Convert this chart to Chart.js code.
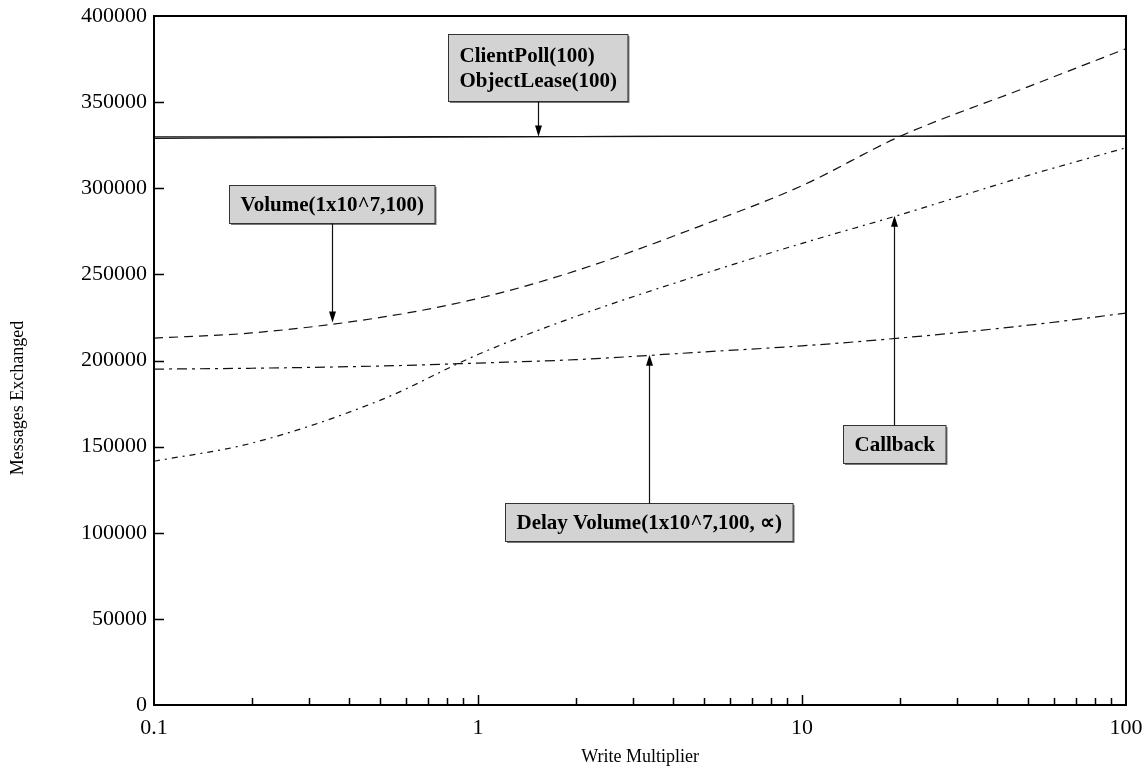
<!DOCTYPE html>
<html>
<head>
<meta charset="utf-8">
<script src="https://cdn.jsdelivr.net/npm/chart.js@4.4.1/dist/chart.umd.min.js"></script>
<style>
  html, body { margin: 0; padding: 0; background: #fff; }
  #wrap { width: 1143px; height: 769px; }
</style>
</head>
<body>
<div id="wrap"><canvas id="chart"></canvas></div>
<script>
// Messages exchanged vs write multiplier
const multipliers = [0.1, 0.2, 0.5, 1, 2, 5, 10, 20, 50, 100];
const clientPoll   = [329800, 329850, 329900, 330000, 330050, 330100, 330150, 330200, 330250, 330300];
const objectLease  = [329000, 329200, 329500, 329800, 330000, 330100, 330150, 330200, 330250, 330300];
const volume       = [213000, 216000, 225000, 236000, 252000, 279000, 301500, 330000, 359000, 381000];
const callback     = [141500, 152000, 177000, 203500, 225500, 250500, 268000, 284500, 307500, 323500];
const delayVolume  = [195000, 195500, 196800, 198500, 200500, 205000, 208500, 213000, 220500, 227500];
const xTickValues  = [0.1, 1, 10, 100];
const yTickStep    = 50000;

// callout boxes: arrow at x, box edge at boxY, arrow tip at tipY
const callouts = [
  { lines: ['ClientPoll(100)', 'ObjectLease(100)'], x: 1.53, boxY: 350700, tipY: 330000, dir: 'down' },
  { lines: ['Volume(1x10^7,100)'], x: 0.354, boxY: 279900, tipY: 222000, dir: 'down' },
  { lines: ['Delay Volume(1x10^7,100, \u221D)'], x: 3.37, boxY: 117300, tipY: 203300, dir: 'up' },
  { lines: ['Callback'], x: 19.2, boxY: 162600, tipY: 284000, dir: 'up' }
];

const SERIF = "'Liberation Serif', 'Times New Roman', serif";

function pts(values) {
  return multipliers.map((m, i) => ({ x: m, y: values[i] }));
}

function lineSet(label, values, dash) {
  return {
    label: label,
    data: pts(values),
    borderColor: '#111',
    borderWidth: 1.2,
    borderDash: dash,
    pointRadius: 0,
    fill: false,
    cubicInterpolationMode: 'monotone'
  };
}

const framePlugin = {
  id: 'frame',
  afterDraw(chart) {
    const { ctx, chartArea: a, scales } = chart;
    ctx.save();
    ctx.strokeStyle = '#000';
    ctx.lineWidth = 2;
    ctx.strokeRect(a.left, a.top, a.right - a.left, a.bottom - a.top);
    ctx.lineWidth = 1.5;
    ctx.beginPath();
    for (let v = yTickStep; v < 400000; v += yTickStep) {
      const y = Math.round(scales.y.getPixelForValue(v)) + 0.5;
      ctx.moveTo(a.left, y);
      ctx.lineTo(a.left + 10, y);
    }
    for (let d = 0.1; d < 100; d *= 10) {
      for (let m = 1; m <= 9; m++) {
        if (d === 0.1 && m === 1) continue;
        const x = Math.round(scales.x.getPixelForValue(d * m)) + 0.5;
        ctx.moveTo(x, a.bottom);
        ctx.lineTo(x, a.bottom - (m === 1 ? 10 : 7));
      }
    }
    ctx.stroke();
    // y axis title (sits a little below centre in the original)
    ctx.translate(18, 398);
    ctx.rotate(-Math.PI / 2);
    ctx.font = '18px ' + SERIF;
    ctx.fillStyle = '#000';
    ctx.textAlign = 'center';
    ctx.textBaseline = 'middle';
    ctx.fillText('Messages Exchanged', 0, 0);
    ctx.restore();
  }
};

const calloutPlugin = {
  id: 'callouts',
  afterDatasetsDraw(chart) {
    const { ctx, scales } = chart;
    ctx.save();
    ctx.font = 'bold 21px ' + SERIF;
    callouts.forEach(c => {
      const cx = scales.x.getPixelForValue(c.x);
      const edge = scales.y.getPixelForValue(c.boxY);
      const tip = scales.y.getPixelForValue(c.tipY);
      const n = c.lines.length;
      const w = Math.max(...c.lines.map(l => ctx.measureText(l).width)) + 22;
      const h = n * 25 + (n > 1 ? 17 : 13);
      const left = Math.round(cx - w / 2) + 0.5;
      const top = Math.round(c.dir === 'down' ? edge - h : edge) + 0.5;
      // shadow
      ctx.fillStyle = '#777';
      ctx.fillRect(left + 1.5, top + 1.5, w, h);
      ctx.fillStyle = '#d3d3d3';
      ctx.fillRect(left, top, w, h);
      ctx.strokeStyle = '#333';
      ctx.lineWidth = 1;
      ctx.strokeRect(left, top, w, h);
      ctx.fillStyle = '#000';
      ctx.textBaseline = 'middle';
      const y0 = top + h / 2 - (n - 1) * 12.5 + 1;
      c.lines.forEach((l, i) => {
        ctx.fillText(l, left + 11, y0 + i * 25);
      });
      // arrow
      const ax = Math.round(cx) + 0.5;
      const start = c.dir === 'down' ? top + h : top;
      const sgn = c.dir === 'down' ? 1 : -1;
      ctx.beginPath();
      ctx.moveTo(ax, start);
      ctx.lineTo(ax, tip - sgn * 10);
      ctx.strokeStyle = '#111';
      ctx.lineWidth = 1.2;
      ctx.stroke();
      ctx.beginPath();
      ctx.moveTo(ax, tip);
      ctx.lineTo(ax - 3.5, tip - sgn * 11);
      ctx.lineTo(ax + 3.5, tip - sgn * 11);
      ctx.closePath();
      ctx.fillStyle = '#000';
      ctx.fill();
    });
    ctx.restore();
  }
};

new Chart(document.getElementById('chart'), {
  type: 'line',
  data: {
    datasets: [
      lineSet('ClientPoll(100)', clientPoll, []),
      lineSet('ObjectLease(100)', objectLease, []),
      lineSet('Volume(1x10^7,100)', volume, [9, 6]),
      lineSet('Callback', callback, [6, 5, 2, 5]),
      lineSet('Delay Volume(1x10^7,100, \u221D)', delayVolume, [10, 5, 3, 5])
    ]
  },
  options: {
    responsive: true,
    maintainAspectRatio: false,
    animation: false,
    layout: { padding: { top: 16, right: 17, left: 0, bottom: 0 } },
    plugins: { legend: { display: false }, tooltip: { enabled: false } },
    scales: {
      x: {
        type: 'logarithmic',
        min: 0.1,
        max: 100,
        afterBuildTicks: s => { s.ticks = xTickValues.map(v => ({ value: v })); },
        afterFit: s => { s.height = 64; s.paddingLeft = 0; s.paddingRight = 0; },
        grid: { display: false, drawTicks: false },
        border: { display: false },
        ticks: {
          color: '#000',
          font: { family: SERIF, size: 22 },
          padding: 10,
          maxRotation: 0,
          callback: v => String(v)
        },
        title: {
          display: true,
          text: 'Write Multiplier',
          color: '#000',
          font: { family: SERIF, size: 18 },
          padding: { top: 0, bottom: 1 }
        }
      },
      y: {
        min: 0,
        max: 400000,
        afterFit: s => { s.width = 154; s.paddingTop = 0; s.paddingBottom = 0; },
        grid: { display: false, drawTicks: false },
        border: { display: false },
        ticks: {
          stepSize: yTickStep,
          color: '#000',
          font: { family: SERIF, size: 22 },
          padding: 7,
          callback: v => String(v)
        },
        title: { display: false }
      }
    }
  },
  plugins: [framePlugin, calloutPlugin]
});
</script>
</body>
</html>
